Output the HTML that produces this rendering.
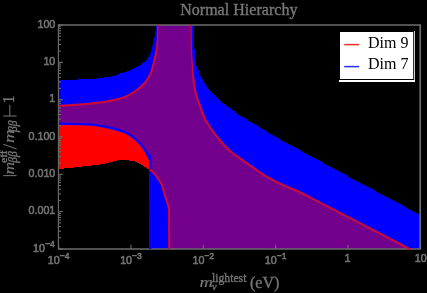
<!DOCTYPE html>
<html><head><meta charset="utf-8"><style>
html,body{margin:0;padding:0;background:#000;}
body{width:427px;height:293px;overflow:hidden;}
svg{display:block;}
.t{font-family:"Liberation Sans",sans-serif;font-size:10.7px;fill:#747474;stroke:#747474;stroke-width:0.55px;}
.s{font-family:"Liberation Serif",serif;fill:#767676;stroke:#767676;stroke-width:0.35px;}
</style></head><body>
<svg width="427" height="293" viewBox="0 0 427 293" style="will-change:transform;transform:translateZ(0)">
<rect width="427" height="293" fill="#000"/>
<defs>
<clipPath id="cp"><rect x="58.900000000000006" y="25.0" width="361.3" height="223.98"/></clipPath>
<clipPath id="cp2"><rect x="58.900000000000006" y="24.0" width="362.3" height="225.88"/></clipPath>
<clipPath id="cr"><path d="M58.70,105.90 C61.22,105.73 68.17,105.32 73.80,104.90 C79.43,104.48 86.25,104.12 92.50,103.40 C98.75,102.68 106.47,101.47 111.30,100.60 C116.13,99.73 118.85,98.98 121.50,98.20 C124.15,97.42 125.07,96.97 127.20,95.90 C129.33,94.83 131.92,93.43 134.30,91.80 C136.68,90.17 139.52,87.90 141.50,86.10 C143.48,84.30 144.77,82.88 146.20,81.00 C147.63,79.12 149.10,76.85 150.10,74.80 C151.10,72.75 151.48,71.08 152.20,68.70 C152.92,66.32 153.68,63.58 154.40,60.50 C155.12,57.42 155.98,53.62 156.50,50.20 C157.02,46.78 157.28,44.20 157.50,40.00 C157.72,35.80 157.75,27.50 157.80,25.00 L191.00,25.00 C191.07,28.83 191.20,41.67 191.40,48.00 C191.60,54.33 191.93,58.50 192.20,63.00 C192.47,67.50 192.57,70.70 193.00,75.00 C193.43,79.30 194.10,84.97 194.80,88.80 C195.50,92.63 196.23,94.88 197.20,98.00 C198.17,101.12 199.50,104.50 200.60,107.50 C201.70,110.50 202.85,113.70 203.80,116.00 C204.75,118.30 204.63,118.55 206.30,121.30 C207.97,124.05 211.02,128.75 213.80,132.50 C216.58,136.25 219.88,140.38 223.00,143.80 C226.12,147.22 229.33,150.35 232.50,153.00 C235.67,155.65 238.75,157.40 242.00,159.70 C245.25,162.00 248.35,164.25 252.00,166.80 C255.65,169.35 259.93,172.53 263.90,175.00 C267.87,177.47 271.83,179.60 275.80,181.60 C279.77,183.60 283.67,185.22 287.70,187.00 C291.73,188.78 292.82,188.77 300.00,192.30 C307.18,195.83 320.55,202.92 330.80,208.20 C341.05,213.48 351.25,218.72 361.50,224.00 C371.75,229.28 384.30,235.74 392.30,239.90 C400.30,244.06 406.63,247.47 409.50,248.98 L169.25,248.98 C169.22,242.60 169.26,217.86 169.10,210.70 C168.94,203.54 168.77,207.88 168.30,206.00 C167.83,204.12 167.02,201.75 166.30,199.40 C165.58,197.05 164.78,194.40 164.00,191.90 C163.22,189.40 162.78,186.90 161.60,184.40 C160.42,181.90 158.47,179.08 156.90,176.90 C155.33,174.72 153.45,172.50 152.20,171.30 C150.95,170.10 150.50,170.37 149.40,169.70 C148.30,169.03 147.17,168.25 145.60,167.30 C144.03,166.35 141.77,164.97 140.00,164.00 C138.23,163.03 136.67,162.07 135.00,161.50 C133.33,160.93 131.92,160.92 130.00,160.60 C128.08,160.28 125.37,159.70 123.50,159.60 C121.63,159.50 120.88,159.60 118.80,160.00 C116.72,160.40 113.80,161.30 111.00,162.00 C108.20,162.70 105.08,163.65 102.00,164.20 C98.92,164.75 97.20,164.75 92.50,165.30 C87.80,165.85 79.43,166.88 73.80,167.50 C68.17,168.12 61.22,168.75 58.70,169.00 Z"/></clipPath>
</defs>
<g clip-path="url(#cp)">
<path d="M58.70,105.90 C61.22,105.73 68.17,105.32 73.80,104.90 C79.43,104.48 86.25,104.12 92.50,103.40 C98.75,102.68 106.47,101.47 111.30,100.60 C116.13,99.73 118.85,98.98 121.50,98.20 C124.15,97.42 125.07,96.97 127.20,95.90 C129.33,94.83 131.92,93.43 134.30,91.80 C136.68,90.17 139.52,87.90 141.50,86.10 C143.48,84.30 144.77,82.88 146.20,81.00 C147.63,79.12 149.10,76.85 150.10,74.80 C151.10,72.75 151.48,71.08 152.20,68.70 C152.92,66.32 153.68,63.58 154.40,60.50 C155.12,57.42 155.98,53.62 156.50,50.20 C157.02,46.78 157.28,44.20 157.50,40.00 C157.72,35.80 157.75,27.50 157.80,25.00 L191.00,25.00 C191.07,28.83 191.20,41.67 191.40,48.00 C191.60,54.33 191.93,58.50 192.20,63.00 C192.47,67.50 192.57,70.70 193.00,75.00 C193.43,79.30 194.10,84.97 194.80,88.80 C195.50,92.63 196.23,94.88 197.20,98.00 C198.17,101.12 199.50,104.50 200.60,107.50 C201.70,110.50 202.85,113.70 203.80,116.00 C204.75,118.30 204.63,118.55 206.30,121.30 C207.97,124.05 211.02,128.75 213.80,132.50 C216.58,136.25 219.88,140.38 223.00,143.80 C226.12,147.22 229.33,150.35 232.50,153.00 C235.67,155.65 238.75,157.40 242.00,159.70 C245.25,162.00 248.35,164.25 252.00,166.80 C255.65,169.35 259.93,172.53 263.90,175.00 C267.87,177.47 271.83,179.60 275.80,181.60 C279.77,183.60 283.67,185.22 287.70,187.00 C291.73,188.78 292.82,188.77 300.00,192.30 C307.18,195.83 320.55,202.92 330.80,208.20 C341.05,213.48 351.25,218.72 361.50,224.00 C371.75,229.28 384.30,235.74 392.30,239.90 C400.30,244.06 406.63,247.47 409.50,248.98 L169.25,248.98 C169.22,242.60 169.26,217.86 169.10,210.70 C168.94,203.54 168.77,207.88 168.30,206.00 C167.83,204.12 167.02,201.75 166.30,199.40 C165.58,197.05 164.78,194.40 164.00,191.90 C163.22,189.40 162.78,186.90 161.60,184.40 C160.42,181.90 158.47,179.08 156.90,176.90 C155.33,174.72 153.45,172.50 152.20,171.30 C150.95,170.10 150.50,170.37 149.40,169.70 C148.30,169.03 147.17,168.25 145.60,167.30 C144.03,166.35 141.77,164.97 140.00,164.00 C138.23,163.03 136.67,162.07 135.00,161.50 C133.33,160.93 131.92,160.92 130.00,160.60 C128.08,160.28 125.37,159.70 123.50,159.60 C121.63,159.50 120.88,159.60 118.80,160.00 C116.72,160.40 113.80,161.30 111.00,162.00 C108.20,162.70 105.08,163.65 102.00,164.20 C98.92,164.75 97.20,164.75 92.50,165.30 C87.80,165.85 79.43,166.88 73.80,167.50 C68.17,168.12 61.22,168.75 58.70,169.00 Z" fill="#ff0000" shape-rendering="crispEdges"/>
<path d="M58.70,80.20 C60.42,80.13 64.30,79.97 69.00,79.80 C73.70,79.63 81.90,79.45 86.90,79.20 C91.90,78.95 95.57,78.67 99.00,78.30 C102.43,77.93 105.17,77.37 107.50,77.00 C109.83,76.63 110.75,76.72 113.00,76.10 C115.25,75.48 118.47,74.12 121.00,73.30 C123.53,72.48 125.80,72.08 128.20,71.20 C130.60,70.32 133.35,69.05 135.40,68.00 C137.45,66.95 138.80,66.13 140.50,64.90 C142.20,63.67 144.18,62.03 145.60,60.60 C147.02,59.17 148.05,57.98 149.00,56.30 C149.95,54.62 150.55,52.83 151.30,50.50 C152.05,48.17 152.85,45.17 153.50,42.30 C154.15,39.43 154.78,36.18 155.20,33.30 C155.62,30.42 155.87,26.38 156.00,25.00 L193.50,25.00 C193.55,27.50 193.62,35.83 193.80,40.00 C193.98,44.17 194.23,46.08 194.60,50.00 C194.97,53.92 195.55,60.50 196.00,63.50 C196.45,66.50 196.83,66.75 197.30,68.00 C197.77,69.25 198.27,69.75 198.80,71.00 C199.33,72.25 199.85,74.17 200.50,75.50 C201.15,76.83 201.95,77.67 202.70,79.00 C203.45,80.33 204.12,82.00 205.00,83.50 C205.88,85.00 206.53,86.13 208.00,88.00 C209.47,89.87 211.30,92.20 213.80,94.70 C216.30,97.20 219.88,100.50 223.00,103.00 C226.12,105.50 229.83,107.70 232.50,109.70 C235.17,111.70 237.42,113.85 239.00,115.00 C240.58,116.15 239.95,115.40 242.00,116.60 C244.05,117.80 248.18,120.33 251.30,122.20 C254.42,124.07 257.58,125.92 260.70,127.80 C263.82,129.68 267.48,131.97 270.00,133.50 C272.52,135.03 270.85,134.25 275.80,137.00 C280.75,139.75 291.75,145.67 299.70,150.00 C307.65,154.33 313.20,157.42 323.50,163.00 C333.80,168.58 350.03,177.33 361.50,183.50 C372.97,189.67 382.52,194.78 392.30,200.00 C402.08,205.22 415.55,212.33 420.20,214.80 L420.2,248.98 L150.30,248.98 C150.30,234.65 150.45,178.08 150.30,163.00 C150.15,147.92 150.18,160.50 149.40,158.50 C148.62,156.50 147.17,153.50 145.60,151.00 C144.03,148.50 142.18,145.85 140.00,143.50 C137.82,141.15 135.00,138.78 132.50,136.90 C130.00,135.02 128.58,133.68 125.00,132.20 C121.42,130.72 117.03,129.30 111.00,128.00 C104.97,126.70 97.52,125.10 88.80,124.40 C80.08,123.70 63.72,123.90 58.70,123.80 Z" fill="#0000ff" shape-rendering="crispEdges"/>
<g clip-path="url(#cr)"><path d="M58.70,80.20 C60.42,80.13 64.30,79.97 69.00,79.80 C73.70,79.63 81.90,79.45 86.90,79.20 C91.90,78.95 95.57,78.67 99.00,78.30 C102.43,77.93 105.17,77.37 107.50,77.00 C109.83,76.63 110.75,76.72 113.00,76.10 C115.25,75.48 118.47,74.12 121.00,73.30 C123.53,72.48 125.80,72.08 128.20,71.20 C130.60,70.32 133.35,69.05 135.40,68.00 C137.45,66.95 138.80,66.13 140.50,64.90 C142.20,63.67 144.18,62.03 145.60,60.60 C147.02,59.17 148.05,57.98 149.00,56.30 C149.95,54.62 150.55,52.83 151.30,50.50 C152.05,48.17 152.85,45.17 153.50,42.30 C154.15,39.43 154.78,36.18 155.20,33.30 C155.62,30.42 155.87,26.38 156.00,25.00 L193.50,25.00 C193.55,27.50 193.62,35.83 193.80,40.00 C193.98,44.17 194.23,46.08 194.60,50.00 C194.97,53.92 195.55,60.50 196.00,63.50 C196.45,66.50 196.83,66.75 197.30,68.00 C197.77,69.25 198.27,69.75 198.80,71.00 C199.33,72.25 199.85,74.17 200.50,75.50 C201.15,76.83 201.95,77.67 202.70,79.00 C203.45,80.33 204.12,82.00 205.00,83.50 C205.88,85.00 206.53,86.13 208.00,88.00 C209.47,89.87 211.30,92.20 213.80,94.70 C216.30,97.20 219.88,100.50 223.00,103.00 C226.12,105.50 229.83,107.70 232.50,109.70 C235.17,111.70 237.42,113.85 239.00,115.00 C240.58,116.15 239.95,115.40 242.00,116.60 C244.05,117.80 248.18,120.33 251.30,122.20 C254.42,124.07 257.58,125.92 260.70,127.80 C263.82,129.68 267.48,131.97 270.00,133.50 C272.52,135.03 270.85,134.25 275.80,137.00 C280.75,139.75 291.75,145.67 299.70,150.00 C307.65,154.33 313.20,157.42 323.50,163.00 C333.80,168.58 350.03,177.33 361.50,183.50 C372.97,189.67 382.52,194.78 392.30,200.00 C402.08,205.22 415.55,212.33 420.20,214.80 L420.2,248.98 L150.30,248.98 C150.30,234.65 150.45,178.08 150.30,163.00 C150.15,147.92 150.18,160.50 149.40,158.50 C148.62,156.50 147.17,153.50 145.60,151.00 C144.03,148.50 142.18,145.85 140.00,143.50 C137.82,141.15 135.00,138.78 132.50,136.90 C130.00,135.02 128.58,133.68 125.00,132.20 C121.42,130.72 117.03,129.30 111.00,128.00 C104.97,126.70 97.52,125.10 88.80,124.40 C80.08,123.70 63.72,123.90 58.70,123.80 Z" fill="#72008d"/></g>
</g>
<g stroke="#6c6c6c" stroke-width="1.7" fill="none">
<path d="M57.85,25.0 H421.05 M57.85,248.98 H421.05 M420.2,25.0 V248.98"/>
<path d="M58.400000000000006,25.0 V248.98" stroke-width="1.15"/>
</g>
<g stroke="#6c6c6c" stroke-width="1.1" fill="none">
<line x1="58.7" x2="62.900000000000006" y1="25.00" y2="25.00"/><line x1="58.7" x2="61.0" y1="51.09" y2="51.09"/><line x1="58.7" x2="61.0" y1="44.52" y2="44.52"/><line x1="58.7" x2="61.0" y1="39.86" y2="39.86"/><line x1="58.7" x2="61.0" y1="36.24" y2="36.24"/><line x1="58.7" x2="61.0" y1="33.28" y2="33.28"/><line x1="58.7" x2="61.0" y1="30.78" y2="30.78"/><line x1="58.7" x2="61.0" y1="28.62" y2="28.62"/><line x1="58.7" x2="61.0" y1="26.71" y2="26.71"/><line x1="58.7" x2="62.900000000000006" y1="62.33" y2="62.33"/><line x1="58.7" x2="61.0" y1="88.42" y2="88.42"/><line x1="58.7" x2="61.0" y1="81.85" y2="81.85"/><line x1="58.7" x2="61.0" y1="77.19" y2="77.19"/><line x1="58.7" x2="61.0" y1="73.57" y2="73.57"/><line x1="58.7" x2="61.0" y1="70.61" y2="70.61"/><line x1="58.7" x2="61.0" y1="68.11" y2="68.11"/><line x1="58.7" x2="61.0" y1="65.95" y2="65.95"/><line x1="58.7" x2="61.0" y1="64.04" y2="64.04"/><line x1="58.7" x2="62.900000000000006" y1="99.66" y2="99.66"/><line x1="58.7" x2="61.0" y1="125.75" y2="125.75"/><line x1="58.7" x2="61.0" y1="119.18" y2="119.18"/><line x1="58.7" x2="61.0" y1="114.52" y2="114.52"/><line x1="58.7" x2="61.0" y1="110.90" y2="110.90"/><line x1="58.7" x2="61.0" y1="107.94" y2="107.94"/><line x1="58.7" x2="61.0" y1="105.44" y2="105.44"/><line x1="58.7" x2="61.0" y1="103.28" y2="103.28"/><line x1="58.7" x2="61.0" y1="101.37" y2="101.37"/><line x1="58.7" x2="62.900000000000006" y1="136.99" y2="136.99"/><line x1="58.7" x2="61.0" y1="163.08" y2="163.08"/><line x1="58.7" x2="61.0" y1="156.51" y2="156.51"/><line x1="58.7" x2="61.0" y1="151.85" y2="151.85"/><line x1="58.7" x2="61.0" y1="148.23" y2="148.23"/><line x1="58.7" x2="61.0" y1="145.27" y2="145.27"/><line x1="58.7" x2="61.0" y1="142.77" y2="142.77"/><line x1="58.7" x2="61.0" y1="140.61" y2="140.61"/><line x1="58.7" x2="61.0" y1="138.70" y2="138.70"/><line x1="58.7" x2="62.900000000000006" y1="174.32" y2="174.32"/><line x1="58.7" x2="61.0" y1="200.41" y2="200.41"/><line x1="58.7" x2="61.0" y1="193.84" y2="193.84"/><line x1="58.7" x2="61.0" y1="189.18" y2="189.18"/><line x1="58.7" x2="61.0" y1="185.56" y2="185.56"/><line x1="58.7" x2="61.0" y1="182.60" y2="182.60"/><line x1="58.7" x2="61.0" y1="180.10" y2="180.10"/><line x1="58.7" x2="61.0" y1="177.94" y2="177.94"/><line x1="58.7" x2="61.0" y1="176.03" y2="176.03"/><line x1="58.7" x2="62.900000000000006" y1="211.65" y2="211.65"/><line x1="58.7" x2="61.0" y1="237.74" y2="237.74"/><line x1="58.7" x2="61.0" y1="231.17" y2="231.17"/><line x1="58.7" x2="61.0" y1="226.51" y2="226.51"/><line x1="58.7" x2="61.0" y1="222.89" y2="222.89"/><line x1="58.7" x2="61.0" y1="219.93" y2="219.93"/><line x1="58.7" x2="61.0" y1="217.43" y2="217.43"/><line x1="58.7" x2="61.0" y1="215.27" y2="215.27"/><line x1="58.7" x2="61.0" y1="213.36" y2="213.36"/><line x1="58.7" x2="62.900000000000006" y1="248.98" y2="248.98"/><line x1="58.70" x2="58.70" y1="248.98" y2="244.78"/><line x1="131.00" x2="131.00" y1="248.98" y2="244.78"/><line x1="203.30" x2="203.30" y1="248.98" y2="244.78"/><line x1="275.60" x2="275.60" y1="248.98" y2="244.78"/><line x1="347.90" x2="347.90" y1="248.98" y2="244.78"/><line x1="420.20" x2="420.20" y1="248.98" y2="244.78"/>
</g>
<g clip-path="url(#cp2)">
<path d="M58.70,123.80 C63.72,123.90 80.08,123.70 88.80,124.40 C97.52,125.10 104.97,126.70 111.00,128.00 C117.03,129.30 121.42,130.72 125.00,132.20 C128.58,133.68 130.00,135.02 132.50,136.90 C135.00,138.78 137.82,141.15 140.00,143.50 C142.18,145.85 144.03,148.50 145.60,151.00 C147.17,153.50 148.62,156.50 149.40,158.50 C150.18,160.50 150.15,147.92 150.30,163.00 C150.45,178.08 150.30,234.65 150.30,248.98" fill="none" stroke="#0a00ff" stroke-width="2.4" stroke-linejoin="round"/>
<path d="M56.77,107.10 L58.77,106.97 L59.65,106.92 L60.76,106.84 L62.07,106.76 L63.55,106.67 L65.15,106.57 L66.85,106.46 L68.60,106.34 L70.38,106.22 L72.15,106.10 L73.88,105.97 L75.60,105.85 L77.38,105.73 L79.22,105.60 L81.09,105.47 L83.00,105.33 L84.92,105.19 L86.86,105.03 L88.80,104.86 L90.72,104.67 L92.62,104.47 L94.55,104.24 L96.53,103.98 L98.55,103.71 L100.58,103.42 L102.59,103.12 L104.56,102.82 L106.46,102.51 L108.27,102.22 L109.95,101.93 L111.49,101.66 L112.89,101.40 L114.18,101.15 L115.36,100.90 L116.46,100.65 L117.47,100.41 L118.42,100.17 L119.32,99.94 L120.18,99.70 L121.00,99.47 L121.81,99.23 L122.57,99.00 L123.24,98.78 L123.86,98.57 L124.42,98.36 L124.96,98.15 L125.47,97.93 L125.98,97.69 L126.51,97.44 L127.07,97.17 L127.68,96.86 L128.34,96.53 L129.03,96.17 L129.73,95.80 L130.45,95.41 L131.19,95.00 L131.93,94.57 L132.68,94.12 L133.42,93.66 L134.17,93.18 L134.91,92.69 L135.65,92.17 L136.41,91.62 L137.18,91.05 L137.95,90.46 L138.72,89.85 L139.47,89.25 L140.21,88.64 L140.92,88.04 L141.59,87.46 L142.22,86.90 L142.81,86.36 L143.36,85.83 L143.88,85.32 L144.38,84.81 L144.85,84.31 L145.30,83.80 L145.75,83.29 L146.19,82.76 L146.62,82.22 L147.06,81.65 L147.50,81.06 L147.94,80.45 L148.37,79.82 L148.80,79.19 L149.22,78.54 L149.63,77.88 L150.02,77.23 L150.39,76.57 L150.74,75.92 L151.07,75.27 L151.36,74.63 L151.63,74.01 L151.87,73.41 L152.08,72.80 L152.28,72.20 L152.47,71.60 L152.65,70.98 L152.83,70.35 L153.03,69.70 L153.23,69.01 L153.45,68.28 L153.67,67.53 L153.89,66.75 L154.11,65.96 L154.34,65.14 L154.56,64.31 L154.79,63.45 L155.01,62.57 L155.23,61.67 L155.45,60.75 L155.67,59.80 L155.89,58.81 L156.11,57.79 L156.33,56.75 L156.54,55.69 L156.74,54.62 L156.94,53.54 L157.12,52.46 L157.29,51.39 L157.44,50.34 L157.58,49.33 L157.70,48.35 L157.80,47.39 L157.90,46.44 L157.99,45.48 L158.06,44.50 L158.13,43.47 L158.19,42.40 L158.24,41.26 L158.29,40.04 L158.33,38.66 L158.36,37.09 L158.37,35.40 L158.38,33.64 L158.41,31.87 L158.44,30.16 L158.45,28.56 L158.47,27.13 L158.49,25.92 L158.50,25.01 L158.53,23.01 L157.13,22.99 L157.10,24.99 L157.09,25.90 L157.07,27.11 L157.05,28.54 L157.04,30.14 L157.01,31.85 L156.98,33.61 L156.93,35.36 L156.86,37.05 L156.79,38.60 L156.71,39.96 L156.62,41.17 L156.53,42.29 L156.44,43.34 L156.34,44.35 L156.24,45.31 L156.13,46.24 L156.00,47.17 L155.87,48.11 L155.72,49.06 L155.56,50.06 L155.38,51.08 L155.18,52.11 L154.97,53.16 L154.75,54.21 L154.51,55.26 L154.27,56.30 L154.03,57.33 L153.80,58.33 L153.57,59.31 L153.35,60.25 L153.14,61.16 L152.92,62.05 L152.70,62.91 L152.48,63.76 L152.26,64.58 L152.04,65.38 L151.82,66.17 L151.60,66.93 L151.39,67.67 L151.17,68.39 L150.96,69.09 L150.77,69.75 L150.59,70.38 L150.41,70.97 L150.23,71.55 L150.05,72.10 L149.85,72.65 L149.64,73.20 L149.40,73.76 L149.13,74.33 L148.83,74.92 L148.51,75.53 L148.16,76.15 L147.79,76.77 L147.40,77.39 L147.01,78.00 L146.60,78.61 L146.18,79.21 L145.76,79.79 L145.34,80.35 L144.93,80.89 L144.52,81.40 L144.11,81.90 L143.69,82.38 L143.26,82.85 L142.82,83.33 L142.36,83.80 L141.87,84.29 L141.34,84.79 L140.78,85.30 L140.17,85.85 L139.52,86.41 L138.83,86.99 L138.12,87.58 L137.38,88.17 L136.63,88.76 L135.88,89.33 L135.14,89.89 L134.40,90.42 L133.69,90.91 L132.99,91.38 L132.28,91.84 L131.56,92.29 L130.84,92.71 L130.13,93.13 L129.42,93.53 L128.72,93.91 L128.03,94.27 L127.36,94.61 L126.72,94.94 L126.12,95.24 L125.57,95.51 L125.07,95.75 L124.60,95.96 L124.13,96.16 L123.65,96.36 L123.14,96.55 L122.57,96.74 L121.93,96.95 L121.19,97.17 L120.40,97.40 L119.59,97.63 L118.76,97.86 L117.89,98.09 L116.96,98.32 L115.97,98.56 L114.91,98.80 L113.75,99.04 L112.49,99.29 L111.11,99.54 L109.58,99.81 L107.91,100.09 L106.12,100.39 L104.23,100.69 L102.27,100.99 L100.27,101.29 L98.26,101.58 L96.25,101.85 L94.28,102.10 L92.38,102.33 L90.50,102.54 L88.60,102.72 L86.68,102.89 L84.76,103.05 L82.84,103.19 L80.94,103.33 L79.07,103.46 L77.23,103.58 L75.45,103.70 L73.72,103.83 L72.00,103.95 L70.23,104.08 L68.46,104.20 L66.71,104.31 L65.01,104.42 L63.41,104.52 L61.94,104.62 L60.63,104.70 L59.51,104.77 L58.63,104.83 L56.63,104.96Z" fill="#cc0a3a"/>
<path d="M190.34,23.01 L190.38,25.01 L190.40,26.41 L190.42,28.26 L190.45,30.47 L190.49,32.94 L190.53,35.57 L190.57,38.28 L190.61,40.97 L190.66,43.56 L190.72,45.94 L190.78,48.02 L190.84,49.86 L190.91,51.59 L190.99,53.21 L191.07,54.75 L191.15,56.22 L191.24,57.64 L191.32,59.01 L191.41,60.36 L191.49,61.70 L191.55,63.04 L191.59,64.35 L191.62,65.60 L191.65,66.80 L191.68,67.97 L191.71,69.12 L191.75,70.27 L191.80,71.43 L191.86,72.61 L191.93,73.83 L192.01,75.10 L192.11,76.44 L192.23,77.84 L192.38,79.28 L192.55,80.74 L192.73,82.21 L192.92,83.67 L193.12,85.09 L193.32,86.47 L193.53,87.77 L193.74,88.99 L193.96,90.12 L194.18,91.16 L194.40,92.14 L194.63,93.06 L194.86,93.95 L195.11,94.82 L195.36,95.67 L195.62,96.53 L195.89,97.41 L196.17,98.32 L196.48,99.28 L196.80,100.24 L197.14,101.22 L197.49,102.19 L197.84,103.16 L198.20,104.13 L198.56,105.09 L198.91,106.04 L199.26,106.96 L199.59,107.87 L199.92,108.77 L200.25,109.68 L200.59,110.59 L200.92,111.50 L201.25,112.39 L201.57,113.26 L201.89,114.10 L202.21,114.91 L202.51,115.68 L202.80,116.40 L203.06,117.03 L203.26,117.56 L203.44,118.03 L203.61,118.47 L203.79,118.91 L204.00,119.37 L204.25,119.87 L204.55,120.43 L204.92,121.09 L205.38,121.86 L205.93,122.75 L206.54,123.73 L207.22,124.80 L207.96,125.94 L208.74,127.12 L209.55,128.33 L210.38,129.56 L211.23,130.78 L212.09,131.98 L212.94,133.14 L213.79,134.28 L214.67,135.44 L215.58,136.61 L216.50,137.78 L217.44,138.95 L218.39,140.11 L219.34,141.25 L220.30,142.38 L221.26,143.47 L222.21,144.52 L223.15,145.55 L224.10,146.56 L225.06,147.55 L226.02,148.51 L226.98,149.46 L227.95,150.38 L228.91,151.28 L229.88,152.16 L230.85,153.00 L231.81,153.83 L232.78,154.61 L233.75,155.35 L234.71,156.06 L235.67,156.73 L236.62,157.37 L237.57,158.01 L238.52,158.64 L239.47,159.27 L240.42,159.91 L241.38,160.58 L242.35,161.27 L243.31,161.95 L244.28,162.64 L245.25,163.33 L246.23,164.03 L247.22,164.74 L248.22,165.45 L249.25,166.18 L250.30,166.92 L251.38,167.68 L252.49,168.46 L253.64,169.27 L254.81,170.11 L256.00,170.95 L257.21,171.81 L258.44,172.67 L259.67,173.51 L260.89,174.34 L262.12,175.14 L263.33,175.91 L264.53,176.65 L265.73,177.37 L266.93,178.07 L268.13,178.75 L269.33,179.42 L270.53,180.07 L271.73,180.71 L272.92,181.34 L274.12,181.95 L275.32,182.56 L276.52,183.16 L277.71,183.73 L278.91,184.29 L280.10,184.83 L281.29,185.36 L282.48,185.89 L283.67,186.41 L284.86,186.93 L286.06,187.45 L287.27,187.99 L288.41,188.48 L289.44,188.90 L290.39,189.27 L291.32,189.62 L292.27,189.99 L293.32,190.41 L294.51,190.92 L295.90,191.54 L297.56,192.31 L299.53,193.26 L301.85,194.42 L304.49,195.76 L307.39,197.25 L310.50,198.86 L313.75,200.55 L317.10,202.29 L320.49,204.06 L323.85,205.81 L327.15,207.52 L330.31,209.16 L333.38,210.74 L336.45,212.32 L339.52,213.90 L342.59,215.48 L345.66,217.06 L348.73,218.63 L351.79,220.21 L354.86,221.79 L357.93,223.37 L361.01,224.96 L364.14,226.57 L367.38,228.24 L370.67,229.93 L373.97,231.64 L377.25,233.33 L380.46,234.98 L383.56,236.58 L386.51,238.11 L389.28,239.54 L391.80,240.85 L394.15,242.08 L396.39,243.25 L398.50,244.36 L400.48,245.41 L402.32,246.38 L404.01,247.28 L405.53,248.09 L406.87,248.80 L408.03,249.42 L409.00,249.93 L410.76,250.87 L411.77,248.97 L410.00,248.03 L409.04,247.52 L407.88,246.91 L406.54,246.19 L405.02,245.38 L403.33,244.48 L401.49,243.51 L399.50,242.46 L397.39,241.35 L395.15,240.17 L392.80,238.95 L390.27,237.63 L387.50,236.20 L384.55,234.67 L381.45,233.07 L378.24,231.41 L374.96,229.72 L371.65,228.02 L368.36,226.33 L365.13,224.66 L361.99,223.04 L358.92,221.46 L355.85,219.88 L352.78,218.30 L349.71,216.72 L346.64,215.14 L343.57,213.57 L340.51,211.99 L337.44,210.41 L334.37,208.83 L331.29,207.24 L328.14,205.61 L324.85,203.90 L321.48,202.15 L318.10,200.39 L314.75,198.64 L311.49,196.95 L308.38,195.34 L305.47,193.85 L302.81,192.50 L300.47,191.34 L298.48,190.37 L296.80,189.59 L295.37,188.95 L294.14,188.43 L293.06,187.99 L292.09,187.62 L291.17,187.26 L290.24,186.90 L289.25,186.49 L288.13,186.01 L286.93,185.48 L285.72,184.96 L284.53,184.44 L283.34,183.92 L282.16,183.40 L280.98,182.87 L279.81,182.34 L278.63,181.79 L277.46,181.22 L276.28,180.64 L275.10,180.04 L273.92,179.43 L272.73,178.81 L271.55,178.18 L270.37,177.53 L269.19,176.88 L268.01,176.20 L266.83,175.52 L265.65,174.81 L264.47,174.09 L263.28,173.34 L262.08,172.55 L260.88,171.73 L259.66,170.90 L258.45,170.05 L257.24,169.20 L256.05,168.35 L254.88,167.52 L253.73,166.70 L252.62,165.92 L251.54,165.16 L250.49,164.43 L249.47,163.70 L248.46,162.99 L247.47,162.28 L246.50,161.58 L245.53,160.89 L244.56,160.20 L243.59,159.51 L242.62,158.82 L241.64,158.14 L240.67,157.48 L239.71,156.84 L238.76,156.22 L237.82,155.59 L236.89,154.96 L235.96,154.31 L235.04,153.63 L234.11,152.93 L233.19,152.17 L232.25,151.38 L231.31,150.55 L230.37,149.70 L229.42,148.82 L228.48,147.92 L227.54,146.99 L226.60,146.04 L225.66,145.07 L224.72,144.08 L223.79,143.08 L222.86,142.04 L221.93,140.97 L220.99,139.87 L220.05,138.74 L219.11,137.60 L218.18,136.44 L217.27,135.29 L216.38,134.13 L215.51,132.99 L214.66,131.86 L213.83,130.72 L212.99,129.54 L212.15,128.34 L211.33,127.13 L210.53,125.93 L209.76,124.76 L209.03,123.64 L208.36,122.59 L207.75,121.61 L207.22,120.74 L206.78,120.00 L206.43,119.39 L206.16,118.88 L205.95,118.45 L205.77,118.06 L205.61,117.67 L205.45,117.25 L205.27,116.78 L205.05,116.24 L204.80,115.60 L204.51,114.88 L204.21,114.13 L203.90,113.33 L203.59,112.50 L203.26,111.64 L202.94,110.75 L202.61,109.85 L202.27,108.95 L201.94,108.04 L201.61,107.13 L201.27,106.22 L200.92,105.28 L200.57,104.34 L200.21,103.38 L199.86,102.42 L199.51,101.46 L199.17,100.50 L198.84,99.55 L198.52,98.61 L198.23,97.68 L197.94,96.77 L197.67,95.90 L197.42,95.05 L197.17,94.22 L196.94,93.39 L196.71,92.53 L196.49,91.64 L196.28,90.70 L196.07,89.69 L195.86,88.61 L195.65,87.42 L195.45,86.14 L195.25,84.79 L195.05,83.38 L194.87,81.94 L194.69,80.48 L194.52,79.03 L194.35,77.60 L194.16,76.22 L193.99,74.90 L193.83,73.65 L193.69,72.46 L193.57,71.30 L193.46,70.16 L193.36,69.03 L193.26,67.89 L193.17,66.72 L193.07,65.52 L192.96,64.27 L192.85,62.96 L192.74,61.62 L192.66,60.28 L192.57,58.93 L192.48,57.56 L192.40,56.15 L192.32,54.69 L192.23,53.15 L192.16,51.53 L192.09,49.81 L192.02,47.98 L191.97,45.90 L191.91,43.53 L191.86,40.95 L191.82,38.26 L191.77,35.55 L191.74,32.92 L191.70,30.45 L191.67,28.25 L191.65,26.40 L191.62,24.99 L191.59,22.99Z" fill="#cc0a3a"/>
<path d="M148.93,170.67 L149.13,170.76 L149.37,170.86 L149.60,170.94 L149.83,171.03 L150.06,171.13 L150.31,171.25 L150.57,171.39 L150.85,171.58 L151.14,171.80 L151.46,172.08 L151.83,172.44 L152.23,172.87 L152.67,173.35 L153.13,173.87 L153.61,174.42 L154.10,175.01 L154.59,175.62 L155.08,176.25 L155.56,176.89 L156.03,177.53 L156.50,178.19 L156.99,178.89 L157.49,179.62 L158.00,180.36 L158.49,181.11 L158.97,181.87 L159.43,182.64 L159.87,183.39 L160.27,184.14 L160.63,184.86 L160.94,185.57 L161.22,186.28 L161.47,186.99 L161.70,187.71 L161.92,188.44 L162.12,189.18 L162.32,189.93 L162.53,190.69 L162.74,191.45 L162.97,192.22 L163.21,192.97 L163.44,193.73 L163.68,194.49 L163.91,195.26 L164.15,196.02 L164.38,196.78 L164.61,197.53 L164.83,198.27 L165.05,199.00 L165.27,199.72 L165.49,200.42 L165.71,201.13 L165.94,201.83 L166.15,202.52 L166.37,203.20 L166.57,203.86 L166.77,204.50 L166.95,205.11 L167.11,205.70 L167.27,206.30 L167.46,206.85 L168.11,207.51 L169.22,207.40 L169.37,207.27 L168.26,207.29 L167.84,206.76 L167.88,206.99 L167.93,207.70 L167.98,208.91 L168.03,210.72 L168.07,213.35 L168.10,216.83 L168.12,220.93 L168.14,225.43 L168.15,230.14 L168.16,234.81 L168.16,239.25 L168.17,243.24 L168.17,246.55 L168.18,248.98 L170.32,248.98 L170.32,246.55 L170.31,243.24 L170.31,239.25 L170.31,234.81 L170.30,230.13 L170.29,225.43 L170.27,220.92 L170.25,216.81 L170.22,213.33 L170.17,210.68 L170.13,208.84 L170.07,207.58 L170.02,206.77 L169.93,206.23 L169.37,205.45 L168.10,205.54 L168.08,205.58 L168.98,205.54 L169.40,205.94 L169.33,205.70 L169.19,205.14 L169.02,204.52 L168.83,203.88 L168.63,203.22 L168.42,202.55 L168.20,201.87 L167.98,201.18 L167.76,200.48 L167.54,199.79 L167.33,199.08 L167.11,198.37 L166.89,197.64 L166.66,196.90 L166.43,196.15 L166.20,195.39 L165.97,194.63 L165.73,193.86 L165.50,193.10 L165.26,192.33 L165.03,191.58 L164.81,190.85 L164.60,190.11 L164.40,189.37 L164.19,188.62 L163.98,187.86 L163.76,187.09 L163.51,186.31 L163.24,185.52 L162.93,184.73 L162.57,183.94 L162.18,183.15 L161.75,182.35 L161.28,181.54 L160.80,180.74 L160.30,179.95 L159.79,179.17 L159.27,178.40 L158.76,177.66 L158.26,176.95 L157.77,176.27 L157.28,175.60 L156.78,174.94 L156.27,174.29 L155.76,173.65 L155.25,173.04 L154.75,172.46 L154.27,171.91 L153.80,171.40 L153.36,170.94 L152.94,170.52 L152.52,170.14 L152.10,169.82 L151.69,169.56 L151.30,169.34 L150.95,169.17 L150.63,169.04 L150.35,168.93 L150.13,168.85 L149.99,168.79 L149.87,168.73Z" fill="#cc0a3a"/>
</g>
<g class="t"><text transform="translate(55.3,27.7) scale(1,1.09)" text-anchor="end">100</text><text transform="translate(55.3,65.0) scale(1,1.09)" text-anchor="end">10</text><text transform="translate(55.3,102.4) scale(1,1.09)" text-anchor="end">1</text><text transform="translate(55.3,139.7) scale(1,1.09)" text-anchor="end">0.100</text><text transform="translate(55.3,177.0) scale(1,1.09)" text-anchor="end">0.010</text><text transform="translate(55.3,214.3) scale(1,1.09)" text-anchor="end">0.001</text><text transform="translate(54.8,252.2) scale(1,1.09)" text-anchor="end">10<tspan dy="-4.6" font-size="8.6">−4</tspan></text><text transform="translate(58.7,263.5) scale(1,1.09)" text-anchor="middle">10<tspan dy="-4.6" font-size="8.6">−4</tspan></text><text transform="translate(131.0,263.5) scale(1,1.09)" text-anchor="middle">10<tspan dy="-4.6" font-size="8.6">−3</tspan></text><text transform="translate(203.3,263.5) scale(1,1.09)" text-anchor="middle">10<tspan dy="-4.6" font-size="8.6">−2</tspan></text><text transform="translate(275.6,263.5) scale(1,1.09)" text-anchor="middle">10<tspan dy="-4.6" font-size="8.6">−1</tspan></text><text transform="translate(347.5,261.8) scale(1,1.09)" text-anchor="middle">1</text><text transform="translate(420.7,261.8) scale(1,1.09)" text-anchor="middle">10</text></g>
<text class="s" x="180.2" y="15.3" font-size="16" textLength="117.2" lengthAdjust="spacing" style="stroke-width:0.4px">Normal Hierarchy</text>
<!-- x axis title -->
<g class="s">
<text transform="translate(199.6,287.3) scale(1.16,0.95)" font-size="16" font-style="italic" style="stroke-width:0.2px">m</text>
<text x="212" y="290" font-size="10.5" font-style="italic">ν</text>
<text x="212" y="281.7" font-size="11.6" textLength="34.4" lengthAdjust="spacing">lightest</text>
<text x="250" y="287.5" font-size="16">(eV)</text>
</g>
<!-- y axis title -->
<g class="s" transform="translate(13.9,176.1) rotate(-90)">
<line x1="0.5" x2="0.5" y1="-10.7" y2="2.7" stroke="#6e6e6e" stroke-width="1.1"/>
<text transform="translate(1.6,0) scale(1.1,0.95)" font-size="16" font-style="italic" style="stroke-width:0.2px">m</text>
<text x="13.2" y="-7" font-size="11.4" textLength="12.6" lengthAdjust="spacingAndGlyphs">eff</text>
<text x="13.4" y="3.3" font-size="11.6" font-style="italic">ββ</text>
<line x1="27.1" x2="31.8" y1="2.7" y2="-10.7" stroke="#6e6e6e" stroke-width="1.1"/>
<text transform="translate(33.2,0) scale(1.16,0.95)" font-size="16" font-style="italic" style="stroke-width:0.2px">m</text>
<text x="44.2" y="3.3" font-size="11.6" font-style="italic">ββ</text>
<line x1="60.1" x2="60.1" y1="-10.7" y2="2.7" stroke="#6e6e6e" stroke-width="1.1"/>
<line x1="60.1" x2="71.4" y1="-4.1" y2="-4.1" stroke="#6e6e6e" stroke-width="1.1"/>
<text x="72.5" y="0" font-size="16">1</text>
</g>
<!-- legend -->
<rect x="339" y="31" width="76" height="51" fill="#fff"/>
<rect x="339.5" y="31.5" width="74.2" height="48" fill="#fff" stroke="#000" stroke-width="1"/>
<line x1="344.2" x2="359.2" y1="44.6" y2="44.6" stroke="#ff2a2a" stroke-width="1.5"/>
<line x1="344.2" x2="359.2" y1="66.6" y2="66.6" stroke="#2a2aff" stroke-width="1.5"/>
<text x="368" y="47.5" font-family="Liberation Serif" font-size="16" fill="#000">Dim 9</text>
<text x="368" y="69" font-family="Liberation Serif" font-size="16" fill="#000">Dim 7</text>
</svg>
</body></html>
